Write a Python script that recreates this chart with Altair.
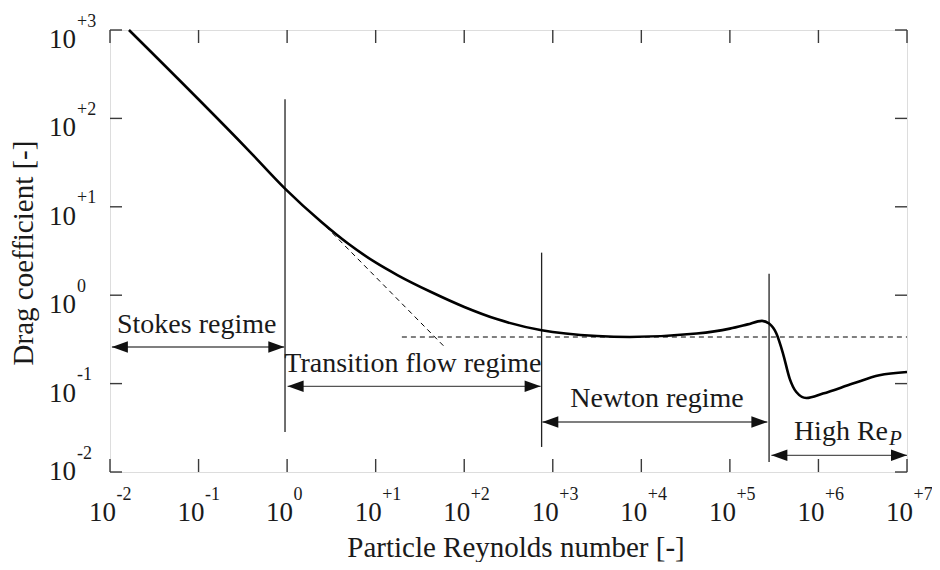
import altair as alt
import pandas as pd

# ---------------- data ----------------
# main drag curve
curve_re = [0.01637, 0.3664, 0.9462, 2.443, 4.875, 10.07, 17.78, 42.27, 100.2, 237.7, 748.2,
            3162, 7413, 42170, 100000, 158500, 229100, 277300, 335000, 398100,
            473200, 562300, 729500, 1122000, 2443000, 4864000, 10000000]
curve_cd = [1000, 43.55, 16.07, 6.730, 3.84, 2.33, 1.679, 1.086, 0.7362, 0.5333, 0.4009,
            0.3451, 0.3365, 0.3681, 0.4188, 0.4677, 0.5129, 0.4775, 0.3681, 0.2188,
            0.1140, 0.08035, 0.06871, 0.07709, 0.1000, 0.1242, 0.1352]

# dashed asymptotes
stokes_ext_re = [2.344, 61.8]
stokes_ext_cd = [7.03, 0.2523]
newton_re = [19.77, 10000000]
newton_cd = [0.3365, 0.3365]

# regime boundaries (vertical lines)
bound_re = [0.947, 748, 277000]
bound_lo = [0.0283, 0.0192, 0.01297]
bound_hi = [164.4, 3.03, 1.754]

# double arrows
arrow_name = ["Stokes", "Transition", "Newton", "High"]
arrow_re0 = [0.0105, 1.013, 762, 294000]
arrow_re1 = [0.930, 729, 265000, 10000000]
arrow_cd = [0.2594, 0.0931, 0.0368, 0.01545]

# regime labels
label_text = ["Stokes regime", "Transition flow regime", "Newton regime"]
label_re = [0.0953, 26.3, 15000]
label_cd = [0.3706, 0.1342, 0.0543]
high_text = "High Re"
high_sub = "P"
high_re = 6100000
high_cd = 0.02287

# axis ticks / labels
x_ticks = [0.01, 0.1, 1, 10, 100, 1000, 10000, 100000, 1000000, 10000000]
x_sup = ["-2", "-1", "0", "+1", "+2", "+3", "+4", "+5", "+6", "+7"]
y_ticks = [0.01, 0.1, 1, 10, 100, 1000]
y_sup = ["-2", "-1", "0", "+1", "+2", "+3"]

x_title = "Particle Reynolds number [-]"
y_title = "Drag coefficient [-]"

# ---------------- chart ----------------
W, H = 797, 442
FONT = "Liberation Serif"
FRAME = "#3a3a3a"
TXT = "#1a1a1a"

xs = alt.Scale(type="log", domain=[0.01, 10000000], nice=False)
ys = alt.Scale(type="log", domain=[0.01, 1000], nice=False)

curve_df = pd.DataFrame({"re": curve_re, "cd": curve_cd})
dash_df = pd.DataFrame({
    "re": stokes_ext_re + newton_re,
    "cd": stokes_ext_cd + newton_cd,
    "seg": ["stokes"] * 2 + ["newton"] * 2,
})
bound_df = pd.DataFrame({"re": bound_re, "lo": bound_lo, "hi": bound_hi})
arrow_df = pd.DataFrame({"name": arrow_name, "re0": arrow_re0, "re1": arrow_re1, "cd": arrow_cd})
head_df = pd.DataFrame({
    "re": arrow_re0 + arrow_re1,
    "cd": arrow_cd + arrow_cd,
    "dir": ["left"] * 4 + ["right"] * 4,
})
label_df = pd.DataFrame({"text": label_text, "re": label_re, "cd": label_cd})
high_df = pd.DataFrame({"text": [high_text], "sub": [high_sub], "re": [high_re], "cd": [high_cd]})
xt_df = pd.DataFrame({"re": x_ticks, "sup": x_sup, "ten": ["10"] * len(x_ticks)})
yt_df = pd.DataFrame({"cd": y_ticks, "sup": y_sup, "ten": ["10"] * len(y_ticks)})

X = lambda f: alt.X(f, type="quantitative", scale=xs, axis=None)
Y = lambda f: alt.Y(f, type="quantitative", scale=ys, axis=None)

curve = alt.Chart(curve_df).mark_line(
    color="black", strokeWidth=2.6, interpolate="monotone"
).encode(x=X("re"), y=Y("cd"))

dashed = alt.Chart(dash_df).mark_line(
    color="black", strokeWidth=1, strokeDash=[5, 4]
).encode(x=X("re"), y=Y("cd"), detail="seg:N")

bounds = alt.Chart(bound_df).mark_rule(color="#222", strokeWidth=1.3).encode(
    x=X("re"), y=Y("lo"), y2="hi"
)

shafts = alt.Chart(arrow_df).mark_rule(color="#555", strokeWidth=1.3).encode(
    x=X("re0"), x2="re1", y=Y("cd")
)

heads = alt.Chart(head_df).mark_point(
    filled=True, color="#111", opacity=1, size=1024, strokeWidth=0
).encode(
    x=X("re"), y=Y("cd"),
    shape=alt.Shape("dir:N", scale=alt.Scale(
        domain=["left", "right"],
        range=["M0,0L1,-0.36L1,0.36Z", "M0,0L-1,-0.36L-1,0.36Z"]), legend=None),
)

labels = alt.Chart(label_df).mark_text(
    font=FONT, fontSize=28, align="center", baseline="alphabetic", color=TXT
).encode(x=X("re"), y=Y("cd"), text="text:N")

high_main = alt.Chart(high_df).mark_text(
    font=FONT, fontSize=28, align="right", baseline="alphabetic", color=TXT
).encode(x=X("re"), y=Y("cd"), text="text:N")

high_subm = alt.Chart(high_df).mark_text(
    font=FONT, fontSize=21, fontStyle="italic", align="left", baseline="alphabetic",
    dx=1, dy=5, color=TXT
).encode(x=X("re"), y=Y("cd"), text="sub:N")

# inward ticks on all four sides
tick_b = alt.Chart(xt_df).mark_rule(color=FRAME, strokeWidth=1.4).encode(
    x=X("re"), y=alt.value(H), y2=alt.value(H - 13))
tick_t = alt.Chart(xt_df).mark_rule(color=FRAME, strokeWidth=1.4).encode(
    x=X("re"), y=alt.value(0), y2=alt.value(13))
tick_l = alt.Chart(yt_df).mark_rule(color=FRAME, strokeWidth=1.4).encode(
    y=Y("cd"), x=alt.value(0), x2=alt.value(12))
tick_r = alt.Chart(yt_df).mark_rule(color=FRAME, strokeWidth=1.4).encode(
    y=Y("cd"), x=alt.value(W), x2=alt.value(W - 12))

# tick labels: "10" with a superscript exponent
xl_ten = alt.Chart(xt_df).mark_text(
    font=FONT, fontSize=27, align="right", baseline="alphabetic", dx=6, dy=49, color=TXT
).encode(x=X("re"), y=alt.value(H), text="ten:N")
xl_sup = alt.Chart(xt_df).mark_text(
    font=FONT, fontSize=18, align="left", baseline="alphabetic", dx=6.5, dy=28, color=TXT
).encode(x=X("re"), y=alt.value(H), text="sup:N")

yt_main = alt.Chart(yt_df).transform_filter("datum.cd > 0.05")
yt_low = alt.Chart(yt_df).transform_filter("datum.cd < 0.05")
yl_ten = yt_main.mark_text(
    font=FONT, fontSize=27, align="right", baseline="alphabetic", dx=-34, dy=18, color=TXT
).encode(y=Y("cd"), x=alt.value(0), text="ten:N")
yl_sup = yt_main.mark_text(
    font=FONT, fontSize=18, align="left", baseline="alphabetic", dx=-33, dy=-3.5, color=TXT
).encode(y=Y("cd"), x=alt.value(0), text="sup:N")
yl_ten2 = yt_low.mark_text(
    font=FONT, fontSize=27, align="right", baseline="alphabetic", dx=-34, dy=8, color=TXT
).encode(y=Y("cd"), x=alt.value(0), text="ten:N")
yl_sup2 = yt_low.mark_text(
    font=FONT, fontSize=18, align="left", baseline="alphabetic", dx=-33, dy=-13.5, color=TXT
).encode(y=Y("cd"), x=alt.value(0), text="sup:N")

# axis titles
xt = alt.Chart(pd.DataFrame({"t": [x_title]})).mark_text(
    font=FONT, fontSize=29, align="center", baseline="alphabetic", color=TXT
).encode(x=alt.value(406), y=alt.value(H + 85), text="t:N")
yt = alt.Chart(pd.DataFrame({"t": [y_title]})).mark_text(
    font=FONT, fontSize=29, align="center", baseline="alphabetic", angle=270, color=TXT
).encode(x=alt.value(-77), y=alt.value(223), text="t:N")

chart = alt.layer(
    dashed, bounds, shafts, heads, curve, labels, high_main, high_subm,
    tick_b, tick_t, tick_l, tick_r, xl_ten, xl_sup, yl_ten, yl_sup, yl_ten2, yl_sup2, xt, yt
).properties(
    width=W, height=H,
    autosize=alt.AutoSizeParams(type="none"),
    padding={"left": 102, "top": 22, "right": 25, "bottom": 90},
).configure_view(
    stroke=FRAME, strokeWidth=1.5
).configure(font=FONT, background="white")

chart.save("out.html", embed_options={"renderer": "svg", "actions": False})
